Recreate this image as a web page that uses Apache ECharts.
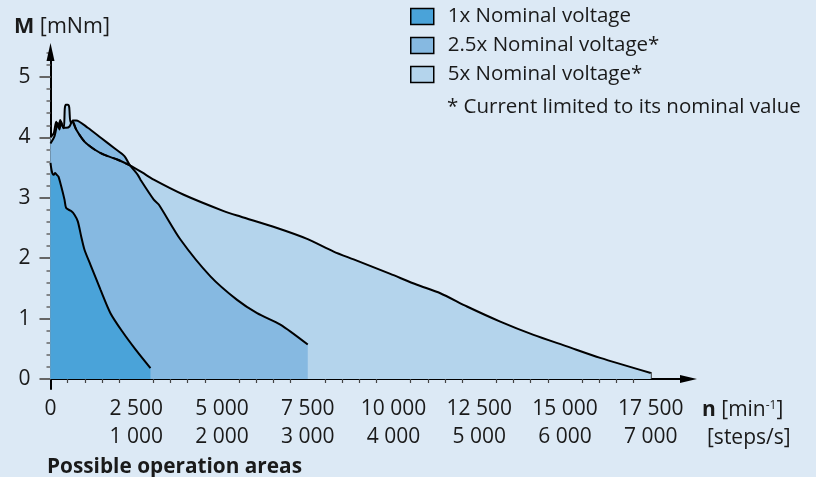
<!DOCTYPE html>
<html><head><meta charset="utf-8">
<script src="https://cdn.jsdelivr.net/npm/echarts@6/dist/echarts.min.js"></script>
<style>html,body{margin:0;padding:0;background:#DCE9F5}#c{width:816px;height:477px}</style>
</head><body><div id="c"></div>
<script>
const seriesNames = ['1x Nominal voltage', '2.5x Nominal voltage*', '5x Nominal voltage*'];
const footnote = '* Current limited to its nominal value';

// 1x nominal voltage: speed [min-1], torque [mNm]
const rpm1x    = [0, 38, 87, 137, 184, 233, 312, 408, 457, 603, 699, 796, 895, 991, 1166, 1457, 1748, 2089, 2477, 2914];
const torque1x = [3.58, 3.44, 3.38, 3.41, 3.38, 3.35, 3.19, 2.97, 2.83, 2.78, 2.72, 2.61, 2.36, 2.14, 1.89, 1.48, 1.09, 0.79, 0.49, 0.18];

// 2.5x nominal voltage
const rpm25x    = [0, 117, 213, 262, 312, 379, 458, 554, 650, 749, 1087, 1477, 1865, 2156, 2302, 2544, 2623, 3010, 3156, 3788, 4662, 5440, 6023, 6702, 7500];
const torque25x = [3.90, 4.02, 4.24, 4.13, 4.26, 4.16, 4.16, 4.18, 4.28, 4.28, 4.16, 3.99, 3.82, 3.69, 3.55, 3.38, 3.30, 2.97, 2.89, 2.31, 1.70, 1.31, 1.09, 0.90, 0.57];

// 5x nominal voltage
const rpm5x    = [0, 96, 166, 233, 283, 329, 388, 417, 446, 504, 545, 583, 650, 749, 991, 1282, 1574, 1961, 2302, 2672, 3010, 3884, 5050, 5537, 6606, 7480, 8255, 8838, 9907, 10685, 11364, 12142, 13112, 14083, 15055, 16026, 17500];
const torque5x = [4.00, 4.07, 4.26, 4.16, 4.29, 4.21, 4.15, 4.48, 4.54, 4.54, 4.50, 4.25, 4.26, 4.13, 3.93, 3.80, 3.71, 3.63, 3.54, 3.42, 3.30, 3.05, 2.78, 2.69, 2.50, 2.32, 2.11, 1.98, 1.74, 1.56, 1.42, 1.20, 0.95, 0.73, 0.54, 0.35, 0.10];
// speed range where the 5x limit lies under the 2.5x area (drawn dashed)
const hidden5xRange = [650, 2302];

const rpmTicks = [0, 2500, 5000, 7500, 10000, 12500, 15000, 17500];
const rpmTickLabels = ['0', '2 500', '5 000', '7 500', '10 000', '12 500', '15 000', '17 500'];
const stepsTickLabels = ['', '1 000', '2 000', '3 000', '4 000', '5 000', '6 000', '7 000'];
const rpmMinorTicks = [];
for (let v = 500; v < 17500; v += 500) if (v % 2500 !== 0) rpmMinorTicks.push(v);
const torqueTicks = [0, 1, 2, 3, 4, 5];
const torqueTickLabels = ['0', '1', '2', '3', '4', '5'];

const colors = ['#4AA3D9', '#86B9E1', '#B4D4EC'];
const FONT = 'Open Sans';
const TXT = '#1a1a1a';
const SMOOTH = 0.25;

const pairs = (xs, ys) => xs.map((x, i) => [x, ys[i]]);
const p1 = pairs(rpm1x, torque1x);
const p25 = pairs(rpm25x, torque25x);
const p5 = pairs(rpm5x, torque5x);
const p5hidden = p5.filter(p => p[0] >= hidden5xRange[0] && p[0] <= hidden5xRange[1]);

const X_MAX = 18600, Y_MAX = 5.414;
const gridBox = {left: 50.5, width: 638, top: 52, bottom: 98};
const gridStub = {left: 50.5, width: 638, top: 52, bottom: 88}; // y axis line running a bit below 0

const chart = echarts.init(document.getElementById('c'), null, {renderer: 'canvas'});
const fill = (name, data, color, withLine) => ({
  type: 'line', name, data, symbol: 'none', color, smooth: SMOOTH,
  itemStyle: {color},
  lineStyle: withLine ? {color: '#000', width: 2} : {width: 0, opacity: 0},
  areaStyle: {color, opacity: 1},
  silent: true
});
const outline = (data, dashed) => ({
  type: 'line', data, symbol: 'none', silent: true, smooth: SMOOTH,
  lineStyle: {color: '#000', width: 2, type: dashed ? [9, 5] : 'solid'}
});

chart.setOption({
  animation: false,
  backgroundColor: '#DCE9F5',
  textStyle: {fontFamily: FONT, color: TXT},
  grid: [Object.assign({}, gridBox), Object.assign({}, gridBox), Object.assign({}, gridStub)],
  legend: {
    orient: 'vertical', left: 410, top: 6, padding: 0,
    itemWidth: 23, itemHeight: 16, itemGap: 8,
    textStyle: {fontFamily: FONT, fontSize: 20.5, color: TXT, lineHeight: 20, padding: [0, 0, 0, 9]},
    selectedMode: false,
    data: seriesNames.map((n, i) => ({name: n, icon: 'rect',
      itemStyle: {color: colors[i], borderColor: '#000', borderWidth: 1.5}}))
  },
  xAxis: [{
    type: 'value', gridIndex: 0, min: 0, max: X_MAX, interval: 2500,
    axisLine: {show: true, onZero: false, lineStyle: {color: '#000', width: 2},
      symbol: ['none', 'triangle'], symbolSize: [8, 17]},
    axisTick: {show: true, inside: true, length: 7, customValues: rpmTicks, lineStyle: {color: '#333', width: 1.5}},
    axisLabel: {customValues: rpmTicks, margin: 16, fontSize: 21, fontFamily: FONT, color: TXT, lineHeight: 28,
      formatter: v => {
        const i = rpmTicks.indexOf(v);
        if (i < 0) return '';
        return stepsTickLabels[i] ? rpmTickLabels[i] + '\n' + stepsTickLabels[i] : rpmTickLabels[i];
      }},
    splitLine: {show: false}
  }, {
    type: 'value', gridIndex: 1, min: 0, max: X_MAX, interval: 500, position: 'bottom',
    axisLine: {show: false, onZero: false},
    axisTick: {show: true, inside: false, length: 4, customValues: rpmMinorTicks, lineStyle: {color: '#444', width: 1.2}},
    axisLabel: {show: false},
    splitLine: {show: false}
  }, {
    type: 'value', gridIndex: 2, min: 0, max: X_MAX, show: false
  }],
  yAxis: [{
    type: 'value', gridIndex: 0, min: 0, max: Y_MAX, interval: 1,
    axisLine: {show: true, onZero: false, lineStyle: {color: '#000', width: 2},
      symbol: ['none', 'triangle'], symbolSize: [8, 18]},
    axisTick: {show: true, inside: false, length: 11, customValues: torqueTicks, lineStyle: {color: '#666', width: 2}},
    minorTick: {show: true, splitNumber: 5, length: 4, lineStyle: {color: '#666', width: 1.5}},
    axisLabel: {customValues: torqueTicks, margin: 20, fontSize: 21, fontFamily: FONT, color: TXT,
      formatter: v => { const i = torqueTicks.indexOf(v); return i < 0 ? '' : torqueTickLabels[i]; }},
    splitLine: {show: false}
  }, {
    type: 'value', gridIndex: 1, min: 0, max: Y_MAX, show: false
  }, {
    type: 'value', gridIndex: 2, min: 0, max: Y_MAX,
    axisLine: {show: true, onZero: false, lineStyle: {color: '#000', width: 2}},
    axisTick: {show: false}, axisLabel: {show: false}, splitLine: {show: false}
  }],
  series: [
    fill(seriesNames[2], p5, colors[2], true),
    fill(seriesNames[1], p25, colors[1], false),
    fill(seriesNames[0], p1, colors[0], false),
    outline(p25, false),
    outline(p1, false),
    outline(p5hidden, true)
  ],
  graphic: [
    {type: 'text', x: 14, y: 27, silent: true, style: {
      text: '{b|M} [mNm]', fontFamily: FONT, fontSize: 21.5, fill: TXT, verticalAlign: 'middle',
      rich: {b: {fontWeight: 'bold', fontSize: 21.5, fontFamily: FONT, fill: TXT}}}},
    {type: 'text', x: 447, y: 107, silent: true, style: {
      text: footnote, fontFamily: FONT, fontSize: 20.5, fill: TXT, verticalAlign: 'middle'}},
    {type: 'text', x: 702, y: 410, silent: true, style: {
      text: '{b|n} [min{s|-1}]', fontFamily: FONT, fontSize: 21, fill: TXT, verticalAlign: 'middle',
      rich: {b: {fontWeight: 'bold', fontSize: 21, fontFamily: FONT, fill: TXT},
             s: {fontSize: 12, fontFamily: FONT, fill: TXT, verticalAlign: 'top'}}}},
    {type: 'text', x: 707, y: 438, silent: true, style: {
      text: '[steps/s]', fontFamily: FONT, fontSize: 21, fill: TXT, verticalAlign: 'middle'}},
    {type: 'text', x: 47, y: 467, silent: true, style: {
      text: 'Possible operation areas', fontFamily: FONT, fontSize: 20.8, fontWeight: 'bold', fill: TXT, verticalAlign: 'middle'}}
  ]
});
</script></body></html>
